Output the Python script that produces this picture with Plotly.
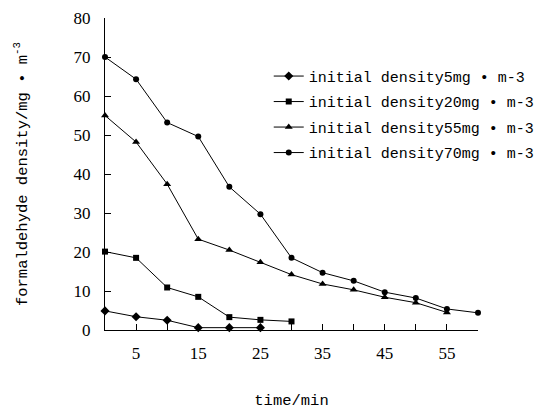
import plotly.graph_objects as go

time_min = [0, 5, 10, 15, 20, 25, 30, 35, 40, 45, 50, 55, 60]

density_5 = [4.9, 3.4, 2.5, 0.6, 0.6, 0.6]
density_20 = [20.1, 18.5, 10.9, 8.5, 3.3, 2.6, 2.2]
density_55 = [55.0, 48.2, 37.4, 23.3, 20.5, 17.4, 14.2, 11.8, 10.3, 8.4, 7.0, 4.5]
density_70 = [70.0, 64.3, 53.2, 49.6, 36.7, 29.7, 18.5, 14.7, 12.6, 9.7, 8.2, 5.4, 4.4]

series_names = [
    "initial density5mg • m-3",
    "initial density20mg • m-3",
    "initial density55mg • m-3",
    "initial density70mg • m-3",
]
series_values = [density_5, density_20, density_55, density_70]
series_symbols = ["diamond", "square", "triangle-up", "circle"]
series_sizes = [7, 6, 7, 6]

x_tick_vals = [0, 5, 10, 15, 20, 25, 30, 35, 40, 45, 50, 55, 60]
x_tick_text = ["", "5", "", "15", "", "25", "", "35", "", "45", "", "55", ""]
y_tick_vals = [0, 10, 20, 30, 40, 50, 60, 70, 80]

fig = go.Figure()
for i, (name, vals, sym, sz) in enumerate(zip(series_names, series_values, series_symbols, series_sizes)):
    fig.add_trace(go.Scatter(
        x=time_min[:len(vals)], y=vals, name=name, mode="lines+markers",
        line=dict(color="black", width=1),
        marker=dict(symbol=sym, size=sz, color="black"),
        cliponaxis=False, legendgroup=f"g{i}",
    ))

mono = "Liberation Mono"
serif = "Liberation Serif"

# page body has an 8px default margin, so the figure is sized to fit the window
fig.update_layout(
    width=535, height=402,
    margin=dict(l=97, r=65, t=10, b=80, autoexpand=False),
    paper_bgcolor="white", plot_bgcolor="white",
    showlegend=True,
    legend=dict(x=0.439, y=0.866, xanchor="left", yanchor="top",
                font=dict(family=mono, size=15, color="black"),
                bgcolor="rgba(0,0,0,0)", tracegroupgap=3),
    xaxis=dict(
        range=[0, 60], showgrid=False, zeroline=False,
        showline=True, linecolor="black", linewidth=1,
        ticks="inside", ticklen=6, tickcolor="black",
        tickvals=x_tick_vals, ticktext=x_tick_text,
        tickfont=dict(family=serif, size=17, color="black"),
        ticklabelstandoff=8,
        title=dict(text="time/min", font=dict(family=mono, size=15.5, color="black"), standoff=31),
        automargin=False,
    ),
    yaxis=dict(
        range=[0, 80], showgrid=False, zeroline=False,
        showline=True, linecolor="black", linewidth=1,
        ticks="inside", ticklen=6, tickcolor="black",
        tickvals=y_tick_vals,
        tickfont=dict(family=serif, size=17, color="black"),
        ticklabelstandoff=10,
        title=dict(text="formaldehyde density/mg • m<sup>-3</sup>",
                   font=dict(family=mono, size=15.5, color="black"), standoff=42),
        automargin=False,
    ),
)

fig.write_html("out.html")
